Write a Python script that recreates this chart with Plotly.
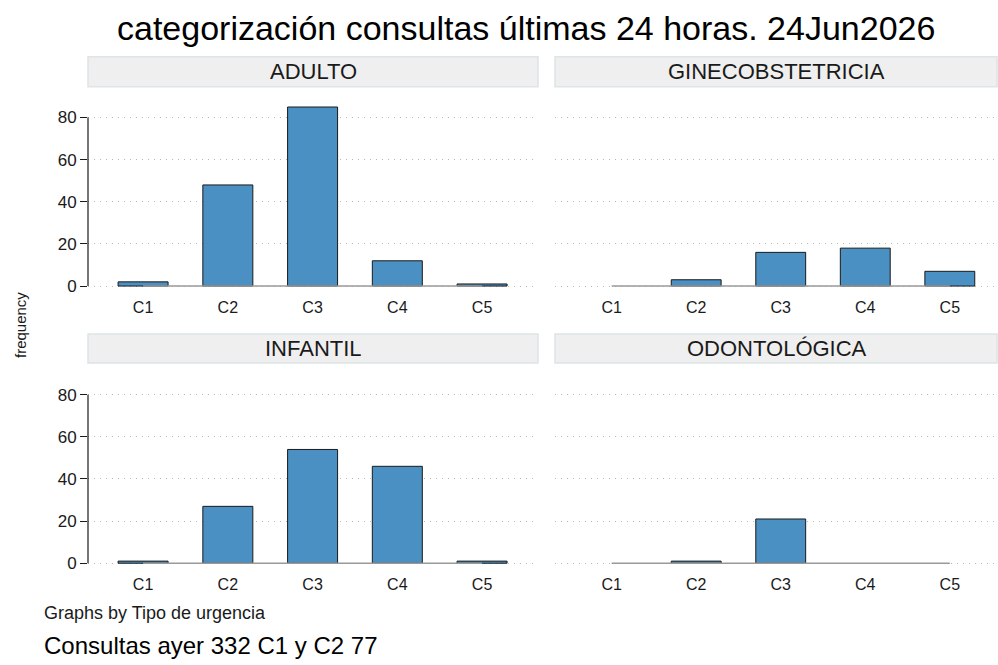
import plotly.graph_objects as go

categories = ["C1", "C2", "C3", "C4", "C5"]
panel_names = ["ADULTO", "GINECOBSTETRICIA", "INFANTIL", "ODONTOLÓGICA"]
adulto = [2, 48, 85, 12, 1]
gineco = [0, 3, 16, 18, 7]
infantil = [1, 27, 54, 46, 1]
odonto = [0, 1, 21, 0, 0]
y_ticks = [0, 20, 40, 60, 80]

title_text = "categorización consultas últimas 24 horas. 24Jun2026"
note1 = "Graphs by Tipo de urgencia"
note2 = "Consultas ayer 332 C1 y C2 77"

W, H = 998, 665
HEFF = 658  # empirical vertical scale of the rendered page
FONT = "Liberation Sans, Arial, sans-serif"
BAR = "#4a90c2"
GRID = "#b8b8b8"
DARK = "#1a1a1a"

def px_x(p):
    return p / W

def px_y(p):
    return 1 - p / HEFF

# panel geometry in pixels: (x0, x1, ytop, ybottom, header_top, header_bottom)
panels = [
    (88, 538, 101, 288, 57, 87),
    (555, 998, 101, 288, 57, 87),
    (88, 538, 379, 566, 335, 364),
    (555, 998, 379, 566, 335, 364),
]
xranges = [[-0.65, 4.66], [-0.67, 4.57], [-0.65, 4.66], [-0.67, 4.57]]
series = [adulto, gineco, infantil, odonto]

fig = go.Figure()
shapes = []
annotations = []
for i, (vals, name, geo) in enumerate(zip(series, panel_names, panels)):
    k = "" if i == 0 else str(i + 1)
    xa, ya = "x" + k, "y" + k
    x0, x1, yt, yb, ht, hb = geo
    left = i % 2 == 0
    fig.add_trace(go.Bar(x=categories, y=vals, width=0.59, xaxis=xa, yaxis=ya,
                         marker=dict(color=BAR,
                                     line=dict(color=DARK, width=[1 if v else 0 for v in vals])),
                         showlegend=False))
    # baseline
    fig.add_trace(go.Scatter(x=[categories[0], categories[-1]], y=[0, 0], mode="lines",
                             line=dict(color="#9a9a9a", width=1.5), xaxis=xa, yaxis=ya,
                             showlegend=False, hoverinfo="skip"))
    fig.layout["xaxis" + k] = dict(
        domain=[px_x(x0), px_x(x1)], anchor=ya, range=xranges[i], type="category",
        categoryorder="array", categoryarray=categories,
        showgrid=False, showline=False, zeroline=False,
        ticks="outside", ticklen=6, tickcolor="rgba(0,0,0,0)",
        tickfont=dict(family=FONT, size=16, color=DARK), fixedrange=True)
    fig.layout["yaxis" + k] = dict(
        domain=[px_y(yb), px_y(yt)], anchor=xa, range=[-0.5, 88],
        tickvals=y_ticks, showgrid=True, gridcolor=GRID, griddash="1px,5px", gridwidth=1,
        zeroline=False, showline=False,
        ticks="outside" if left else "", ticklen=7, tickcolor=DARK,
        showticklabels=left, tickfont=dict(family=FONT, size=17, color=DARK), fixedrange=True)
    if left:
        shapes.append(dict(type="line", xref=xa + " domain", yref=ya, x0=0, x1=0, y0=0, y1=80,
                           line=dict(color=DARK, width=1.2)))
    shapes.append(dict(type="rect", xref="paper", yref="paper",
                       x0=px_x(x0), x1=px_x(min(x1, 997)), y0=px_y(hb), y1=px_y(ht),
                       fillcolor="#efefef", line=dict(color="#dce5e8", width=1.5), layer="below"))
    annotations.append(dict(text=name, xref="paper", yref="paper",
                            x=(px_x(x0) + px_x(x1)) / 2, y=(px_y(hb) + px_y(ht)) / 2,
                            xanchor="center", yanchor="middle", showarrow=False,
                            font=dict(family=FONT, size=22, color=DARK)))

annotations += [
    dict(text=title_text, xref="paper", yref="paper", x=px_x(526), y=px_y(28),
         xanchor="center", yanchor="middle", showarrow=False,
         font=dict(family=FONT, size=34, color="#000000")),
    dict(text="frequency", xref="paper", yref="paper", x=px_x(20), y=px_y(326),
         xanchor="center", yanchor="middle", textangle=-90, showarrow=False,
         font=dict(family=FONT, size=15, color=DARK)),
    dict(text=note1, xref="paper", yref="paper", x=px_x(42), y=px_y(615),
         xanchor="left", yanchor="middle", showarrow=False,
         font=dict(family=FONT, size=18, color=DARK)),
    dict(text=note2, xref="paper", yref="paper", x=px_x(42), y=px_y(647),
         xanchor="left", yanchor="middle", showarrow=False,
         font=dict(family=FONT, size=24, color="#000000")),
]

fig.update_layout(width=W, height=H, margin=dict(l=0, r=0, t=0, b=0),
                  paper_bgcolor="white", plot_bgcolor="white",
                  shapes=shapes, annotations=annotations, bargap=0.4)
fig.write_html("out.html", config={"displayModeBar": False},
               post_script="document.body.style.margin='0';document.body.style.padding='0';")
